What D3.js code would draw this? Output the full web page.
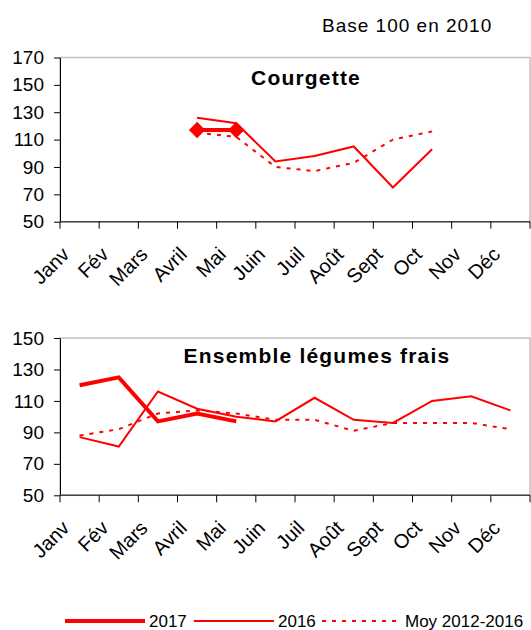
<!DOCTYPE html>
<html>
<head>
<meta charset="utf-8">
<script src="https://cdn.jsdelivr.net/npm/d3@7"></script>
<style>
	body { margin: 0; background: #fff; }
	svg { display: block; font-family: "Liberation Sans", Arial, sans-serif; }
</style>
</head>
<body>
<div id="main_node"></div>
<script>
var months = ["Janv", "Fév", "Mars", "Avril", "Mai", "Juin", "Juil", "Août", "Sept", "Oct", "Nov", "Déc"];

var courgette2017 = [null, null, null, 117, 117, null, null, null, null, null, null, null];
var courgette2016 = [null, null, null, 126, 122, 94, 98, 105, 75, 103, null, null];
var courgetteMoy = [null, null, null, 115, 112, 90, 87, 93, 110, 116, null, null];

var legumes2017 = [120, 125, 97, 102, 97, null, null, null, null, null, null, null];
var legumes2016 = [87, 81, 116, 105, 100, 97, 112, 98, 96, 110, 113, 104];
var legumesMoy = [88, 92, 102, 104, 102, 98, 98, 91, 96, 96, 96, 92];

var courgetteTicks = [50, 70, 90, 110, 130, 150, 170];
var legumesTicks = [50, 70, 90, 110, 130, 150];

var seriesNames = ["2017", "2016", "Moy 2012-2016"];

var width = 531,
	height = 630;

var svg = d3
	.select("#main_node")
	.append("svg")
	.attr("width", width)
	.attr("height", height);

var x = d3.scaleBand().domain(months).range([60, 530]);

// style of each series: 2017 thick, 2016 thin, average dashed
var styles = [
	{ width: 4, dash: null },
	{ width: 2, dash: null },
	{ width: 2, dash: "4,6" },
];

svg.append("text")
	.attr("x", 322)
	.attr("y", 32)
	.attr("font-size", 19)
	.attr("letter-spacing", 1)
	.text("Base 100 en 2010");

function drawPanel(title, titleX, titleY, top, bottom, domain, ticks, series, markers) {
	var y = d3.scaleLinear().domain(domain).range([bottom, top]);
	var g = svg.append("g");

	// plot area border
	g.append("rect")
		.attr("x", 60)
		.attr("y", top)
		.attr("width", 470)
		.attr("height", bottom - top)
		.attr("fill", "none")
		.attr("stroke", "#c0c0c0")
		.attr("stroke-width", 1.5);

	var yAxis = g
		.append("g")
		.attr("transform", "translate(60,0)")
		.call(d3.axisLeft(y).tickValues(ticks).tickSize(6).tickSizeOuter(0).tickPadding(10));
	yAxis.select(".domain").attr("stroke", "#000");
	yAxis.selectAll("text").attr("font-size", 19).attr("fill", "#000").attr("font-family", "Liberation Sans, Arial, sans-serif");

	// category ticks sit between the months
	var edges = months.map(function (m) {
		return x(m);
	});
	edges.push(x.range()[1]);
	g.append("line")
		.attr("x1", 60)
		.attr("x2", 530)
		.attr("y1", bottom)
		.attr("y2", bottom)
		.attr("stroke", "#444")
		.attr("stroke-width", 1.5);
	g.selectAll(".xtick")
		.data(edges)
		.enter()
		.append("line")
		.attr("x1", function (d) {
			return d;
		})
		.attr("x2", function (d) {
			return d;
		})
		.attr("y1", bottom)
		.attr("y2", bottom + 7)
		.attr("stroke", "#000");

	g.selectAll(".xlabel")
		.data(months)
		.enter()
		.append("text")
		.attr("text-anchor", "end")
		.attr("font-size", 20)
		.attr("transform", function (d) {
			return "translate(" + (x(d) + x.bandwidth() / 2 - 9) + "," + (bottom + 34) + ") rotate(-45)";
		})
		.text(function (d) {
			return d;
		});

	g.append("text")
		.attr("x", titleX)
		.attr("y", titleY)
		.attr("text-anchor", "middle")
		.attr("font-size", 21)
		.attr("font-weight", "bold")
		.attr("letter-spacing", 1.2)
		.text(title);

	var line = d3
		.line()
		.defined(function (d) {
			return d != null;
		})
		.x(function (d, i) {
			return x(months[i]) + x.bandwidth() / 2;
		})
		.y(function (d) {
			return y(d);
		});

	// draw average first, then 2016, then 2017 on top
	for (var s = series.length - 1; s >= 0; s--) {
		g.append("path")
			.attr("d", line(series[s]))
			.attr("fill", "none")
			.attr("stroke", "#ff0000")
			.attr("stroke-width", styles[s].width)
			.attr("stroke-dasharray", styles[s].dash);
	}

	if (markers) {
		g.selectAll(".marker")
			.data(series[0].map(function (v, i) {
				return { v: v, m: months[i] };
			}).filter(function (d) {
				return d.v != null;
			}))
			.enter()
			.append("path")
			.attr("d", d3.symbol().type(d3.symbolDiamond2).size(170))
			.attr("transform", function (d) {
				return "translate(" + (x(d.m) + x.bandwidth() / 2) + "," + y(d.v) + ")";
			})
			.attr("fill", "#ff0000");
	}
}

drawPanel("Courgette", 306, 85, 57.5, 221.7, [50, 170], courgetteTicks, [courgette2017, courgette2016, courgetteMoy], true);
drawPanel("Ensemble légumes frais", 317, 363, 338, 495.3, [50, 150], legumesTicks, [legumes2017, legumes2016, legumesMoy], false);

// legend
var legendX = [65, 194, 322];
var legend = svg
	.selectAll(".legend")
	.data(seriesNames)
	.enter()
	.append("g")
	.attr("transform", function (d, i) {
		return "translate(" + legendX[i] + ",621)";
	});
legend
	.append("line")
	.attr("x1", 0)
	.attr("x2", function (d, i) {
		return i == 2 ? 77 : 80;
	})
	.attr("stroke", "#ff0000")
	.attr("stroke-width", function (d, i) {
		return styles[i].width;
	})
	.attr("stroke-dasharray", function (d, i) {
		return styles[i].dash;
	});
legend
	.append("text")
	.attr("x", function (d, i) {
		return i == 2 ? 83 : 84;
	})
	.attr("y", 6)
	.attr("font-size", 17)
	.text(function (d) {
		return d;
	});
</script>
</body>
</html>
